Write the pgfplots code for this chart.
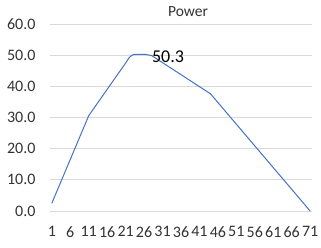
\documentclass[border=0pt]{standalone}
\usepackage{fontspec}
\setmainfont{Carlito}
\usepackage{pgfplots}
\pgfplotsset{compat=1.18}
\definecolor{xlblue}{RGB}{68,114,196}
\definecolor{gridgray}{RGB}{217,217,217}
\begin{document}
\begin{tikzpicture}
\path[use as bounding box] (-50bp,-37bp) rectangle (271bp,211bp);
\begin{axis}[
  at={(0,0)}, anchor=south west,
  scale only axis, width=262bp, height=187bp,
  xmin=0.5, xmax=71.5, ymin=0, ymax=60,
  axis line style={draw=none},
  ytick={0,10,...,60},
  xtick={1,6,...,71},
  major tick length=0pt,
  yticklabel style={/pgf/number format/fixed, /pgf/number format/fixed zerofill, /pgf/number format/precision=1, xshift=-11bp},
  /pgf/number format/assume math mode=true,
  ticklabel style={font=\fontsize{16bp}{17bp}\selectfont, text=black!80},
  xticklabel style={yshift=-12bp, inner xsep=0pt},
  clip=false,
]
\addplot[draw=gridgray, line width=1bp, mark=none, forget plot] coordinates {(0.5,0) (71.5,0)};
\addplot[draw=gridgray, line width=1bp, mark=none, forget plot] coordinates {(0.5,10) (71.5,10)};
\addplot[draw=gridgray, line width=1bp, mark=none, forget plot] coordinates {(0.5,20) (71.5,20)};
\addplot[draw=gridgray, line width=1bp, mark=none, forget plot] coordinates {(0.5,30) (71.5,30)};
\addplot[draw=gridgray, line width=1bp, mark=none, forget plot] coordinates {(0.5,40) (71.5,40)};
\addplot[draw=gridgray, line width=1bp, mark=none, forget plot] coordinates {(0.5,50) (71.5,50)};
\addplot[draw=gridgray, line width=1bp, mark=none, forget plot] coordinates {(0.5,60) (71.5,60)};
\addplot[draw=xlblue, line width=1bp, mark=none] coordinates {
 (1,2.5) (11,30.6) (21,47.5) (22,49.3) (23,50.2) (26,50.3) (28,49.9) (44,37.6) (71,0)
};
\node[anchor=west, inner sep=0pt, font=\fontsize{18bp}{20bp}\selectfont] at (axis cs:28.1,49.6) {50.3};
\end{axis}
\node[font=\fontsize{15.5bp}{16bp}\selectfont, text=black!80] at (138bp,199bp) {Power};
\end{tikzpicture}
\end{document}
